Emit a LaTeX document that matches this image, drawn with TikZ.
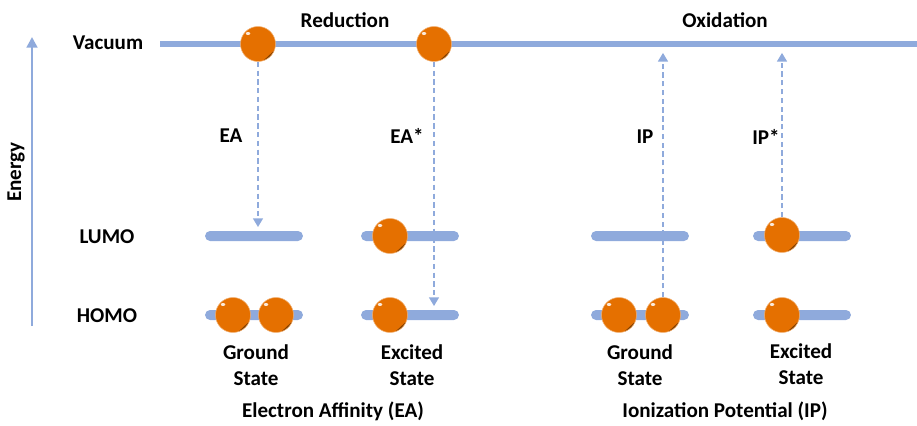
\documentclass[tikz,border=0pt]{standalone}
\usepackage{fontspec}
\setmainfont{Carlito}
\usetikzlibrary{arrows.meta}
\definecolor{levelblue}{RGB}{143,170,220}
\definecolor{electron}{RGB}{229,112,0}

\begin{document}
\begin{tikzpicture}[x=0.02cm,y=-0.02cm,font=\fontsize{12}{14.7}\selectfont\bfseries,
                    level/.style={rectangle,fill=levelblue,rounded corners=0.1cm,
                    minimum width=0.653cm,minimum height=0.2cm,inner sep=0pt,
                    xscale=3,transform shape},
                    elec/.style={circle,fill=electron,draw=electron!55!white,line width=0.3pt,
                    minimum size=0.7cm,inner sep=0pt,
                    path picture={
                      \fill[electron!55!black] ([shift={(-72:0.35cm)}]path picture bounding box.center)
                        arc (-72:-22:0.35cm) -- cycle;
                      \fill[white,opacity=.85] ([shift={(-0.2cm,0.21cm)}]path picture bounding box.center)
                        ellipse (0.045cm and 0.03cm);}},
                    jump/.style={levelblue,line width=1.4pt,dash pattern=on 3pt off 2pt,
                    -{Triangle[width=5.5pt,length=5pt]}},
                    lbl/.style={align=center}]
	\useasboundingbox (0,0) rectangle (917,426);

	% energy axis
	\coordinate	(ebot)	at (32,326);
	\coordinate	(etop)	at (32,37);
	\draw[levelblue,line width=1.6pt,-{Triangle[width=6pt,length=6pt]}] (ebot) -- (etop);
	\node[rotate=90]		(energy)	at (16,172)		{Energy};

	% row labels
	\node				(vaclbl)	at (108,43)		{Vacuum};
	\node				(lumolbl)	at (107,237)	{LUMO};
	\node				(homolbl)	at (107,316)	{HOMO};

	% vacuum level
	\coordinate	(vacL)	at (160,44);
	\coordinate	(vacR)	at (917,44);
	\draw[levelblue,line width=3.4pt] (vacL) -- (vacR);

	\node				(red)		at (345,20)		{Reduction};
	\node				(ox)		at (725,20)		{Oxidation};

	% orbital levels
	\node[level]			(gl)		at (254,236)	{};
	\node[level]			(gh)		at (254,315)	{};
	\node[level]			(el)		at (410,236)	{};
	\node[level]			(eh)		at (410,315)	{};
	\node[level]			(il)		at (640,236)	{};
	\node[level]			(ih)		at (640,315)	{};
	\node[level]			(xl)		at (802,236)	{};
	\node[level]			(xh)		at (802,315)	{};

	% electrons
	\node[elec]			(eavac)		at (258,44)		{};
	\node[elec]			(esvac)		at (434,44)		{};
	\node[elec]			(gh1)		at (233,315)	{};
	\node[elec]			(gh2)		at (276,315)	{};
	\node[elec]			(el1)		at (390,236)	{};
	\node[elec]			(eh1)		at (390,315)	{};
	\node[elec]			(ih1)		at (619,315)	{};
	\node[elec]			(ih2)		at (663,315)	{};
	\node[elec]			(xl1)		at (782,235)	{};
	\node[elec]			(xh1)		at (782,315)	{};

	% transitions
	\path[jump]	(eavac.south)	edge	[shorten >=2pt]	(eavac.south |- gl.north)
				(esvac.south)	edge	[shorten >=2pt]	(esvac.south |- eh.north)
				(ih2.north)		edge	[shorten >=5pt]	(ih2.north |- vacL)
				(xl1.north)		edge	[shorten >=5pt]	(xl1.north |- vacL);

	\node				(ea)		at (231,136)	{EA};
	\node				(eas)		at (407,136)	{EA*};
	\node				(ip)		at (645,137)	{IP};
	\node				(ips)		at (766,137)	{IP*};

	% state labels
	\node[lbl]			(gs1)		at (256,365)	{Ground\\State};
	\node[lbl]			(es1)		at (412,365)	{Excited\\State};
	\node[lbl]			(gs2)		at (640,365)	{Ground\\State};
	\node[lbl]			(es2)		at (801,364)	{Excited\\State};

	\node				(eacap)		at (333,411)	{Electron Affinity (EA)};
	\node				(ipcap)		at (725,411)	{Ionization Potential (IP)};

\end{tikzpicture}
\end{document}
